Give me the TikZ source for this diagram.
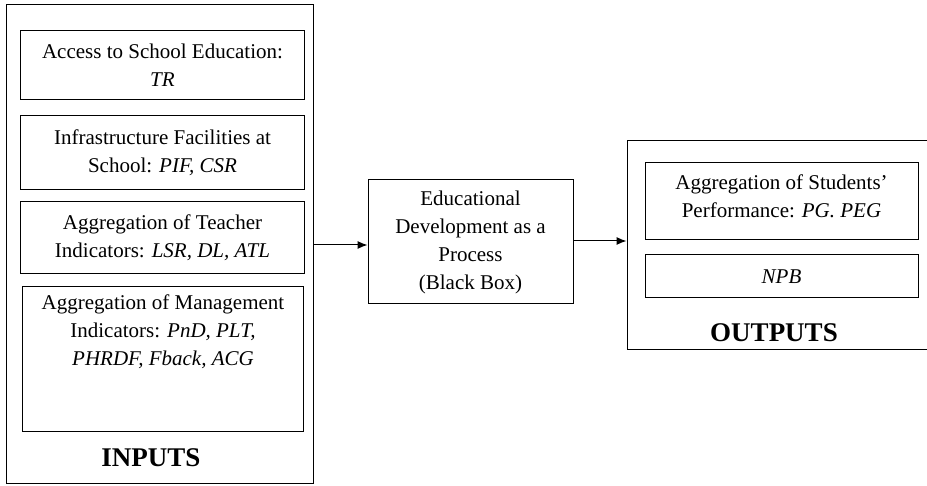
\documentclass[tikz,border=0pt]{standalone}
\usepackage{fontspec}
\setmainfont{Liberation Serif}
\usetikzlibrary{arrows.meta}
\begin{document}
\begin{tikzpicture}[x=1pt,y=-1pt,
  box/.style={draw, line width=1pt, inner sep=0pt, align=center,
    font=\fontsize{21}{28}\selectfont},
  plain/.style={inner sep=0pt, align=center, font=\fontsize{21}{28}\selectfont},
  title/.style={inner sep=0pt, font=\fontsize{27}{30}\selectfont\bfseries},
  arr/.style={line width=1pt, -{Latex[length=10pt,width=8pt]}}]
\clip (0,0) rectangle (927,486);
\fill[white] (0,0) rectangle (927,486);
% INPUTS
\node[box, minimum width=307pt, minimum height=478pt] (inputs) at (159.5,244) {};
\node[box, minimum width=284pt, minimum height=69pt] (access) at (162.5,65.5)
  {Access to School Education:\\ \textit{TR}};
\node[box, minimum width=284pt, minimum height=74pt] (infra) at (162.5,153)
  {Infrastructure Facilities at\\ School: \textit{PIF, CSR}};
\node[box, minimum width=284pt, minimum height=72pt] (teacher) at (162.5,238)
  {Aggregation of Teacher\\ Indicators: \textit{LSR, DL, ATL}};
\node[box, minimum width=281pt, minimum height=144pt] (mgmt) at (163,359) {};
\node[plain, anchor=north] (mgmttext) at ([yshift=-8pt]mgmt.north)
  {Aggregation of Management\\ Indicators: \textit{PnD, PLT,}\\ \textit{PHRDF, Fback, ACG}};
\node[title] (inlabel) at (151,458) {INPUTS};
% PROCESS
\node[box, minimum width=205pt, minimum height=124pt] (process) at (470.5,242)
  {Educational\\ Development as a\\ Process\\ (Black Box)};
% OUTPUTS
\node[box, minimum width=313pt, minimum height=209pt] (outputs) at (783.5,245.5) {};
\node[box, minimum width=273pt, minimum height=77pt] (perf) at (781.5,201.5) {};
\node[plain] (perftext) at ([yshift=5pt]perf.center)
  {Aggregation of Students'\\ Performance: \textit{PG. PEG}};
\node[box, minimum width=273pt, minimum height=43pt] (npb) at (781.5,276.5)
  {\textit{NPB}};
\node[title] (outlabel) at (774,333) {OUTPUTS};
% arrows
\draw[arr] (inputs.east |- 0,245) -- (process.west |- 0,245);
\draw[arr] (process.east |- 0,241) -- (outputs.west |- 0,241);
\end{tikzpicture}
\end{document}
